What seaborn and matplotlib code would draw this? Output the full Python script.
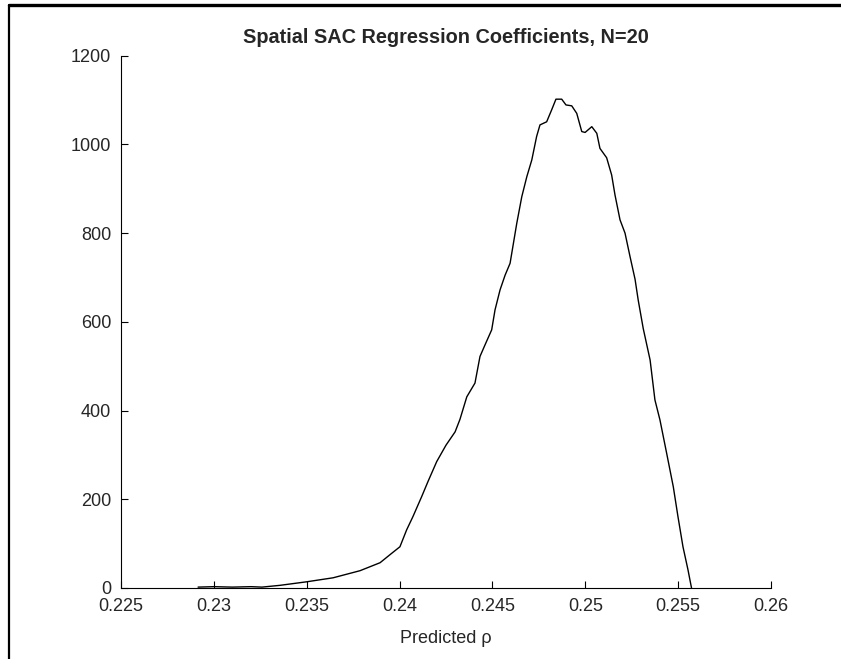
"""Dichteverlauf der SAC-Regressionskoeffizienten (N=20)."""

import matplotlib

matplotlib.use("Agg")

import matplotlib.pyplot as plt
import pandas as pd
import seaborn as sns
from matplotlib.lines import Line2D

# Werte
predicted_rho = [
    0.22915, 0.2300, 0.2310, 0.2320, 0.23259, 0.23356, 0.23500, 0.23642,
    0.23787, 0.23895, 0.23954, 0.24002, 0.24038, 0.24072, 0.24119, 0.24153,
    0.24200, 0.24250, 0.24299, 0.24325, 0.24362, 0.24406, 0.24433, 0.24460,
    0.24496, 0.24514, 0.24541, 0.24568, 0.24595, 0.24631, 0.24658, 0.24685,
    0.24712, 0.24738, 0.24756, 0.24792, 0.24819, 0.24842, 0.24873, 0.24896,
    0.24927, 0.24954, 0.24981, 0.24999, 0.25035, 0.25062, 0.25079, 0.25115,
    0.25142, 0.25160, 0.25187, 0.25214, 0.25241, 0.25268, 0.25285, 0.25312,
    0.25349, 0.25375, 0.25402, 0.25438, 0.25474, 0.25499, 0.25526, 0.25553,
    0.25572,
]
density = [
    2, 3, 2, 3, 2, 6, 14, 23,
    39, 57, 77, 93, 131, 161, 206, 240,
    285, 322, 352, 380, 431, 462, 522, 548,
    582, 627, 672, 705, 732, 822, 882, 927,
    965, 1018, 1044, 1051, 1078, 1102, 1102, 1089,
    1087, 1070, 1029, 1027, 1040, 1025, 991, 970,
    931, 886, 830, 800, 747, 696, 649, 585,
    514, 424, 379, 304, 228, 161, 93, 41,
    0,
]
x_ticks = [0.225, 0.23, 0.235, 0.24, 0.245, 0.25, 0.255, 0.26]
x_tick_labels = ["0.225", "0.23", "0.235", "0.24", "0.245", "0.25", "0.255", "0.26"]
y_ticks = [0, 200, 400, 600, 800, 1000, 1200]

sns.set_style("white")
plt.rcParams["font.family"] = ["Liberation Sans", "DejaVu Sans"]

W, H = 841, 659
fig = plt.figure(figsize=(W / 100, H / 100), dpi=100)
ax = fig.add_axes([121 / W, 1 - 588 / H, 650 / W, (588 - 55.7) / H])

df = pd.DataFrame({"rho": predicted_rho, "dens": density})
sns.lineplot(data=df, x="rho", y="dens", color="black", linewidth=1.0, ax=ax,
             estimator=None, sort=False)

ax.set_xlim(0.225, 0.26)
ax.set_ylim(0, 1200)
ax.set_xticks(x_ticks)
ax.set_xticklabels(x_tick_labels)
ax.set_yticks(y_ticks)
ax.tick_params(direction="in", length=4.8, width=0.8, color="black",
               labelsize=13, pad=7, bottom=True, left=True)

for side in ("top", "right"):
    ax.spines[side].set_visible(False)
for side in ("left", "bottom"):
    ax.spines[side].set_color("black")
    ax.spines[side].set_linewidth(0.8)

ax.set_title("Spatial SAC Regression Coefficients, N=20", fontsize=14.3,
             fontweight="bold", pad=9)
ax.set_xlabel("Predicted ρ", fontsize=13, labelpad=11)
ax.set_ylabel("")

# Rahmen des Screenshots (oben und links)
fig.add_artist(Line2D([9 / W, 1], [1 - 5 / H, 1 - 5 / H], transform=fig.transFigure,
                      color="black", linewidth=2.4))
fig.add_artist(Line2D([9 / W, 9 / W], [0, 1 - 5 / H], transform=fig.transFigure,
                      color="black", linewidth=1.6))

fig.savefig("out.png", dpi=100)
plt.close(fig)
